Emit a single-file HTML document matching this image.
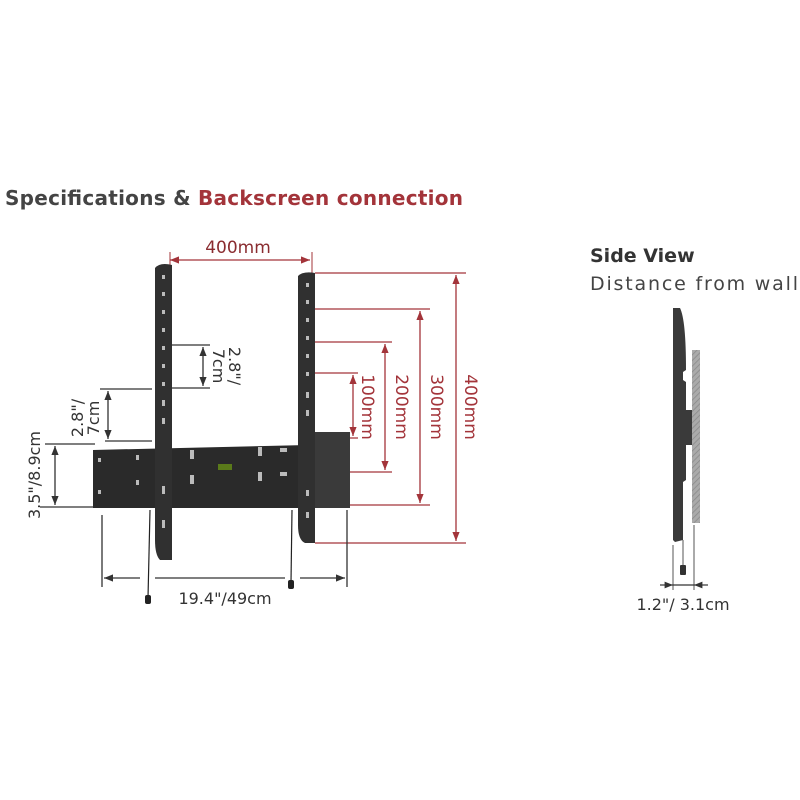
<!DOCTYPE html>
<html><head><style>
html,body{margin:0;padding:0;background:#fff;width:800px;height:800px;overflow:hidden}
svg{display:block}
text{font-family:"DejaVu Sans","Liberation Sans",sans-serif}
</style></head><body>
<svg width="800" height="800" viewBox="0 0 800 800" xmlns="http://www.w3.org/2000/svg">
<defs>
<marker id="ar" viewBox="0 0 10 10" refX="10" refY="5" markerWidth="7" markerHeight="7" orient="auto-start-reverse"><path d="M0,1 L10,5 L0,9 z" fill="#a3343a"/></marker>
<marker id="ab" viewBox="0 0 10 10" refX="10" refY="5" markerWidth="7" markerHeight="7" orient="auto-start-reverse"><path d="M0,1 L10,5 L0,9 z" fill="#333"/></marker>
<pattern id="hatch" width="4" height="4" patternUnits="userSpaceOnUse" patternTransform="rotate(45)"><rect width="4" height="4" fill="#aaa"/><line x1="0" y1="0" x2="0" y2="4" stroke="#888" stroke-width="1.5"/></pattern>
</defs>
<text x="5" y="205" font-size="20" font-weight="bold" fill="#444" textLength="458">Specifications &amp; <tspan fill="#a3343a">Backscreen connection</tspan></text>
<text x="590" y="262" font-size="19" font-weight="bold" fill="#333">Side View</text>
<text x="590" y="290" font-size="19" fill="#444" textLength="208">Distance from wall</text>

<!-- red dims -->
<g stroke="#a3343a" stroke-width="1.3" fill="none">
<line x1="170" y1="260" x2="310" y2="260" marker-start="url(#ar)" marker-end="url(#ar)"/>
<line x1="315" y1="273" x2="466" y2="273"/><line x1="315" y1="543" x2="466" y2="543"/>
<line x1="456" y1="275" x2="456" y2="541" marker-start="url(#ar)" marker-end="url(#ar)"/>
<line x1="315" y1="309" x2="430" y2="309"/><line x1="315" y1="505" x2="430" y2="505"/>
<line x1="420" y1="311" x2="420" y2="503" marker-start="url(#ar)" marker-end="url(#ar)"/>
<line x1="315" y1="342" x2="392" y2="342"/><line x1="315" y1="472" x2="392" y2="472"/>
<line x1="385" y1="344" x2="385" y2="470" marker-start="url(#ar)" marker-end="url(#ar)"/>
<line x1="315" y1="373" x2="358" y2="373"/><line x1="315" y1="438" x2="358" y2="438"/>
<line x1="353" y1="375" x2="353" y2="436" marker-start="url(#ar)" marker-end="url(#ar)"/>
</g>
<line x1="170" y1="252" x2="170" y2="268" stroke="#a3343a" stroke-width="1"/>
<line x1="312" y1="252" x2="312" y2="275" stroke="#a3343a" stroke-width="1"/>
<g fill="#a3343a" font-size="17">
<text x="238" y="253" text-anchor="middle" fill="#8a2c30">400mm</text>
<text transform="translate(362,407) rotate(90)" text-anchor="middle">100mm</text>
<text transform="translate(396,407) rotate(90)" text-anchor="middle">200mm</text>
<text transform="translate(431,407) rotate(90)" text-anchor="middle">300mm</text>
<text transform="translate(465,407) rotate(90)" text-anchor="middle">400mm</text>
</g>

<!-- black dims -->
<g stroke="#333" stroke-width="1.3" fill="none">
<line x1="170" y1="345" x2="210" y2="345"/><line x1="170" y1="388" x2="210" y2="388"/>
<line x1="203" y1="347" x2="203" y2="386" marker-start="url(#ab)" marker-end="url(#ab)"/>
<line x1="100" y1="389" x2="152" y2="389"/><line x1="105" y1="441" x2="152" y2="441"/>
<line x1="108" y1="391" x2="108" y2="439" marker-start="url(#ab)" marker-end="url(#ab)"/>
<line x1="45" y1="444" x2="95" y2="444"/><line x1="40" y1="507" x2="95" y2="507"/>
<line x1="55" y1="446" x2="55" y2="505" marker-start="url(#ab)" marker-end="url(#ab)"/>
<line x1="102" y1="515" x2="102" y2="587"/><line x1="347" y1="510" x2="347" y2="587"/>
<line x1="104" y1="578" x2="140" y2="578" marker-start="url(#ab)"/><line x1="155" y1="578" x2="285" y2="578"/><line x1="300" y1="578" x2="345" y2="578" marker-end="url(#ab)"/>
</g>
<g fill="#333" font-size="16">
<text transform="translate(229,366) rotate(90)" text-anchor="middle">2.8"/</text>
<text transform="translate(213,366) rotate(90)" text-anchor="middle">7cm</text>
<text transform="translate(83,418) rotate(-90)" text-anchor="middle">2.8"/</text>
<text transform="translate(99,418) rotate(-90)" text-anchor="middle">7cm</text>
<text transform="translate(40,475) rotate(-90)" text-anchor="middle">3.5"/8.9cm</text>
<text x="225" y="604" text-anchor="middle">19.4"/49cm</text>
<text x="683" y="610" text-anchor="middle">1.2"/ 3.1cm</text>
</g>

<!-- bracket -->
<path d="M93,450 L308,445 L308,432 L350,432 L350,508 L93,508 z" fill="#2a2a2a"/>
<rect x="300" y="432" width="50" height="76" fill="#3a3a3a"/>
<path d="M155,268 Q160,262 172,265 L172,560 L160,560 Q155,555 155,540 z" fill="#303030"/>
<path d="M298,276 Q303,271 315,273 L315,543 L305,543 Q298,540 298,525 z" fill="#303030"/>
<g fill="#bbb">
<rect x="162" y="275" width="3" height="4"/><rect x="162" y="292" width="3" height="4"/><rect x="162" y="310" width="3" height="4"/><rect x="162" y="328" width="3" height="4"/><rect x="162" y="346" width="3" height="4"/><rect x="162" y="364" width="3" height="4"/><rect x="162" y="382" width="3" height="4"/><rect x="162" y="400" width="3" height="6"/><rect x="162" y="418" width="3" height="6"/><rect x="162" y="486" width="3" height="8"/><rect x="162" y="520" width="3" height="8"/>
<rect x="306" y="283" width="3" height="4"/><rect x="306" y="300" width="3" height="4"/><rect x="306" y="318" width="3" height="4"/><rect x="306" y="336" width="3" height="4"/><rect x="306" y="354" width="3" height="4"/><rect x="306" y="372" width="3" height="4"/><rect x="306" y="392" width="3" height="6"/><rect x="306" y="410" width="3" height="6"/><rect x="306" y="490" width="3" height="6"/><rect x="306" y="512" width="3" height="6"/>
<rect x="136" y="455" width="3" height="5"/><rect x="136" y="480" width="3" height="5"/>
<rect x="190" y="450" width="4" height="9"/><rect x="190" y="475" width="4" height="9"/>
<rect x="258" y="447" width="4" height="9"/><rect x="258" y="472" width="4" height="9"/>
<rect x="280" y="448" width="7" height="4"/><rect x="280" y="472" width="7" height="4"/>
<rect x="98" y="458" width="3" height="4"/><rect x="98" y="490" width="3" height="4"/>
</g>
<rect x="218" y="464" width="14" height="6" fill="#5a7a1a"/>
<g stroke="#222" stroke-width="1.2"><line x1="150" y1="510" x2="148" y2="598"/><line x1="292" y1="510" x2="291" y2="582"/></g>
<rect x="145" y="595" width="6" height="9" rx="2" fill="#222"/><rect x="288" y="580" width="6" height="9" rx="2" fill="#222"/>

<!-- side view -->
<rect x="692" y="350" width="8" height="173" fill="url(#hatch)"/>
<path d="M673,308 L680,308 Q686,320 686,370 L683,372 L683,380 L686,382 L686,410 L692,410 L692,445 L686,445 L686,480 L683,482 L683,540 L675,542 L673,540 z" fill="#3a3a3a"/>
<g stroke="#555" stroke-width="1"><line x1="673" y1="545" x2="673" y2="590"/><line x1="694" y1="525" x2="694" y2="590"/><line x1="683" y1="540" x2="683" y2="565"/></g>
<rect x="680" y="565" width="6" height="10" rx="1" fill="#333"/>
<line x1="660" y1="585" x2="673" y2="585" stroke="#333" stroke-width="1.2" marker-end="url(#ab)"/>
<line x1="708" y1="585" x2="694" y2="585" stroke="#333" stroke-width="1.2" marker-end="url(#ab)"/>
<line x1="673" y1="585" x2="694" y2="585" stroke="#333" stroke-width="1.2"/>
</svg>
</body></html>
